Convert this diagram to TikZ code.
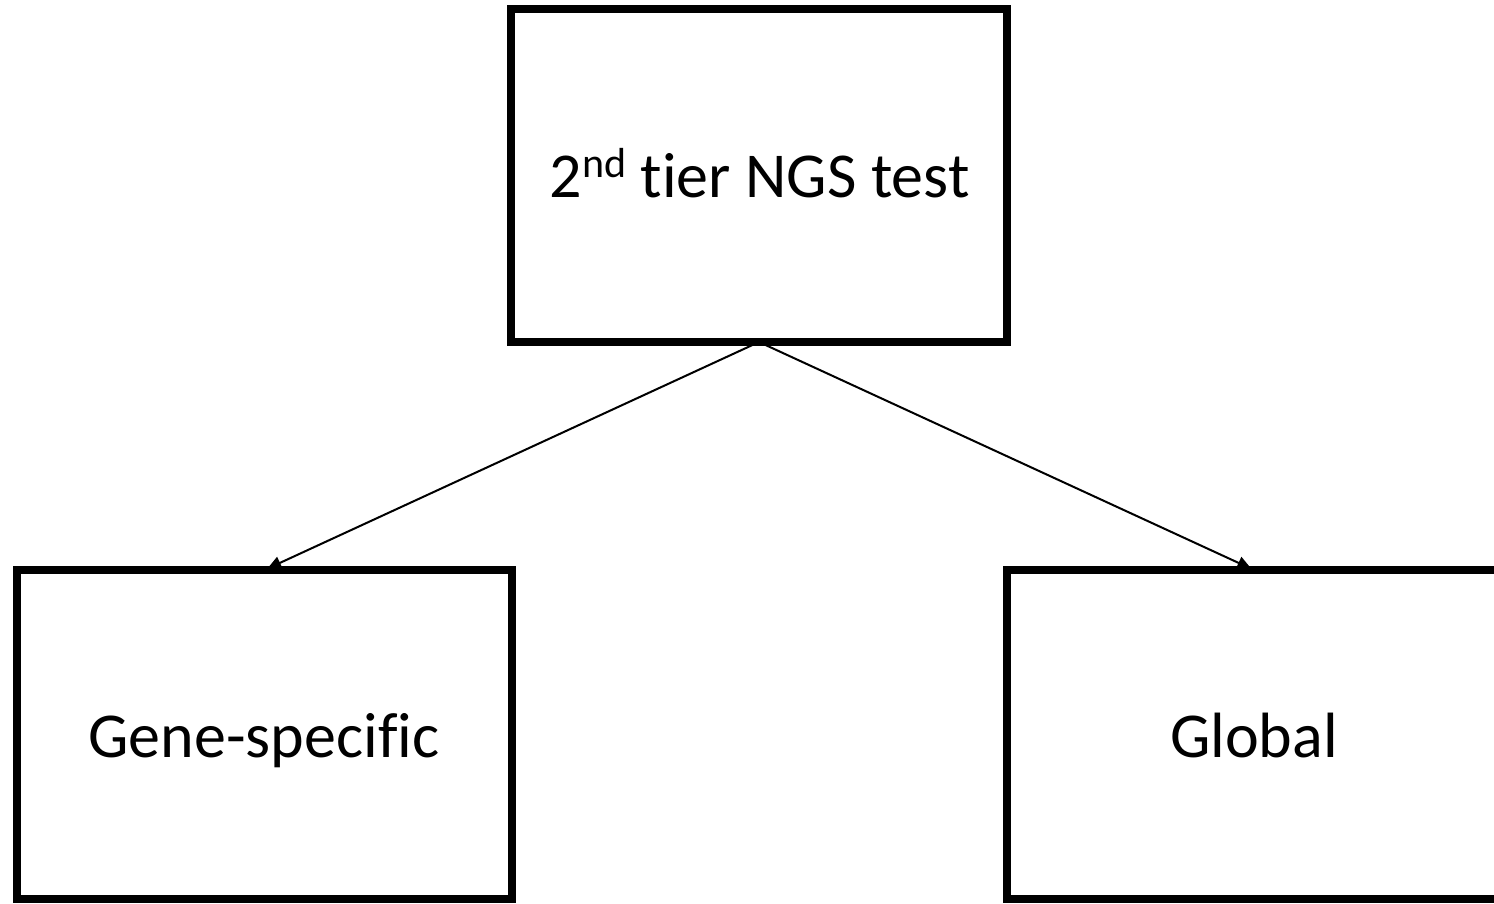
\documentclass[tikz,border=0pt]{standalone}
\usepackage{fontspec}
\setmainfont[Ligatures=NoCommon]{Carlito}
\usetikzlibrary{arrows.meta}
\newcommand{\ordsup}[1]{\raisebox{20pt}{\fontsize{42}{42}\selectfont #1}}
\begin{document}
\begin{tikzpicture}[x=1pt,y=-1pt,
  stagebox/.style={draw=black, line width=8pt, inner sep=0pt, outer sep=0pt},
  label/.style={anchor=base, inner sep=0pt, font=\fontsize{64}{70}\selectfont},
  link/.style={line width=2pt, -{Triangle[length=14pt,width=13pt]}, shorten >=3pt}]
  \useasboundingbox (0,0) rectangle (1494,903);
  \clip (0,0) rectangle (1494,903);
  \node[stagebox, minimum width=496pt, minimum height=333pt] (tier) at (759,175.5) {};
  \node[label] (tiertext) at (759.5,197) {2\ordsup{nd} tier NGS test};
  \node[stagebox, minimum width=495pt, minimum height=329pt] (gene) at (264.5,734.5) {};
  \node[label] (genetext) at (264,757) {Gene-specific};
  \node[stagebox, minimum width=494pt, minimum height=329pt] (global) at (1254,734.5) {};
  \node[label] (globaltext) at (1254,757) {Global};
  \draw[link] (tier.south) -- (gene.north);
  \draw[link] (tier.south) -- (global.north);
\end{tikzpicture}
\end{document}
